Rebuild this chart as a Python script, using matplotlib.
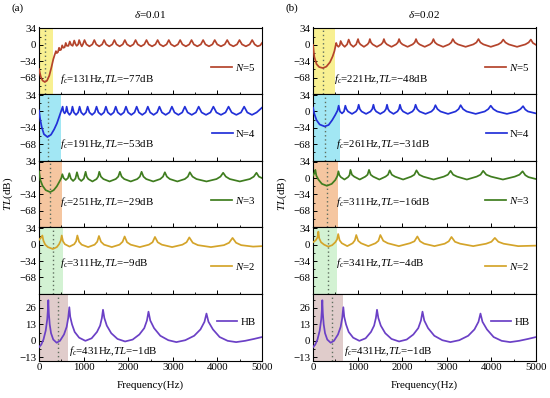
import matplotlib
matplotlib.use('Agg')
import matplotlib.pyplot as plt
from matplotlib.ticker import MultipleLocator

plt.rcParams['font.family'] = ['Liberation Serif', 'DejaVu Serif']
plt.rcParams['mathtext.fontset'] = 'custom'
plt.rcParams['mathtext.rm'] = 'Liberation Serif'
plt.rcParams['mathtext.it'] = 'Liberation Serif:italic'
plt.rcParams['font.size'] = 7.5

# ---------------- data ----------------
panel_titles = [r'$\delta$=0.01', r'$\delta$=0.02']
panel_tags = ['(a)', '(b)']
series_labels = [r'$N$=5', 'N=4', r'$N$=3', r'$N$=2', 'HB']
series_colors = ['#b4442c', '#2230d8', '#3f7d1f', '#d4a42a', '#6b40c6']
shade_colors = ['#f8f092', '#a2e7f4', '#f5c6a0', '#d3f2d3', '#e0cccb']

fc_left = [131, 191, 251, 311, 431]
tlmin_left = [-77, -53, -29, -9, -1]
shade_end_left = [320, 500, 525, 530, 660]
fc_right = [221, 261, 311, 341, 431]
tlmin_right = [-48, -31, -16, -4, -1]
shade_end_right = [500, 600, 565, 540, 680]

L5_f = [0, 40, 80, 131, 180, 230, 280, 320, 350, 380, 400, 425, 450, 470, 495, 520, 545, 575, 600,
        625, 660, 690, 720, 755, 790, 822, 845, 878, 900, 936, 960, 984, 1020,
        1064, 1130, 1196, 1240, 1284, 1350, 1416, 1460, 1506, 1575, 1644, 1690,
        1737, 1808, 1878, 1925, 1973, 2045, 2117, 2165, 2214, 2288, 2361, 2410,
        2460, 2535, 2610, 2660, 2710, 2785, 2860, 2910, 2961, 3038, 3114, 3165,
        3216, 3293, 3369, 3420, 3472, 3550, 3628, 3680, 3732, 3810, 3888, 3940,
        3996, 4080, 4164, 4220, 4275, 4358, 4440, 4495, 4552, 4638, 4723, 4780,
        4836, 4900, 4960, 5000]
L5_tl = [-50, -66, -74, -77, -74, -64, -46, -30, -21, -13, -17, -15, -6, -11, -10, -1, -6, -5, 4,
         -2, -2, 7, 0, -2, 9, 1, -2, 1, 10, 1, -3, 1, 10,
         1, -3, 1, 10, 1, -3, 1, 10, 1, -3, 1, 10,
         1, -3, 1, 10, 1, -3, 1, 10, 1, -3, 1, 10,
         1, -3, 1, 10, 1, -3, 1, 10, 1, -3, 1, 10,
         1, -3, 1, 10, 1, -3, 1, 10, 1, -3, 1, 10,
         1, -3, 1, 10, 1, -3, 1, 10, 1, -3, 1, 10,
         1, -3, -1, 4]

L4_f = [0, 25, 60, 110, 191, 270, 340, 400, 445, 490, 530,
        548, 575, 602, 620, 646, 685, 724, 750, 782, 830, 878, 910,
        946, 1000, 1054, 1090, 1130, 1190, 1250, 1290, 1332, 1395, 1458, 1500,
        1544, 1610, 1676, 1720, 1766, 1835, 1904, 1950, 1998, 2070, 2142, 2190,
        2240, 2315, 2390, 2440, 2492, 2570, 2648, 2700, 2756, 2840, 2924, 2980,
        3038, 3125, 3212, 3270, 3332, 3425, 3518, 3580, 3646, 3745, 3844, 3910,
        3978, 4080, 4182, 4250, 4320, 4425, 4530, 4600, 4670, 4775, 4880, 5000]
L4_tl = [2, -15, -32, -47, -53, -48, -37, -25, -13, -1, 10,
         0, -4, 0, 10, -2, -7, -2, 10, -2, -7, -2, 10,
         -2, -7, -2, 10, -2, -7, -2, 10, -2, -7, -2, 10,
         -2, -7, -2, 10, -2, -7, -2, 10, -2, -7, -2, 10,
         -2, -7, -2, 10, -2, -7, -2, 10, -2, -7, -2, 10,
         -2, -7, -2, 10, -2, -7, -2, 10, -2, -7, -2, 10,
         -2, -7, -2, 10, -2, -7, -2, 10, -2, -7, -2, 8]

L3_f = [0, 30, 80, 150, 251, 330, 400, 460, 500, 523,
        554, 601, 649, 680, 714, 765, 817, 851, 890, 948, 1006, 1045,
        1070, 1106, 1198, 1290, 1326, 1351, 1388, 1444, 1582, 1721, 1777, 1814,
        1853, 1911, 2057, 2203, 2261, 2300, 2342, 2404, 2561, 2718, 2780, 2822,
        2867, 2934, 3102, 3270, 3337, 3382, 3442, 3531, 3755, 3980, 4069, 4129,
        4189, 4278, 4502, 4727, 4816, 4876, 4930, 5000]
L3_tl = [14, -4, -16, -25, -29, -25, -17, -7, 0, 8,
         0, -4, 0, 10, -1, -6, -1, 12, -1, -6, -1, 13,
         3, -2, -7, -2, 3, 13, 3, -2, -7, -2, 3, 13,
         3, -2, -7, -2, 3, 13, 3, -2, -7, -2, 3, 12,
         3, -2, -7, -2, 3, 12, 3, -2, -7, -2, 3, 11,
         3, -2, -7, -2, 3, 11, 3, 0]

L2_f = [0, 40, 75, 100, 140, 200, 311, 400, 450, 490, 510,
        538, 580, 685, 790, 832, 860, 899, 957, 1102, 1247, 1305, 1344,
        1390, 1459, 1632, 1805, 1874, 1920, 1974, 2056, 2260, 2464, 2546, 2600,
        2662, 2754, 2985, 3216, 3308, 3370, 3448, 3564, 3855, 4146, 4262, 4340,
        4418, 4534, 4800, 5000]
L2_tl = [10, 14, 19, 8, 0, -5, -9, -5, 1, 9, 19,
         7, 1, -4, 1, 7, 19, 6, 0, -5, 0, 6, 18,
         6, 0, -5, 0, 6, 17, 5, 0, -5, 0, 5, 16,
         5, 0, -5, 0, 5, 15, 4, -1, -5, -1, 4, 14,
         4, -1, -4, -3]

HB_f = [0, 50, 100, 150, 185, 200, 209, 220, 240, 270, 320, 396, 470, 560, 620, 655, 680,
        700, 740, 800, 900, 1040, 1180, 1300, 1370, 1410, 1435, 1465, 1520, 1620, 1760,
        1930, 2100, 2250, 2360, 2420, 2455, 2495, 2580, 2720, 2900, 3080, 3280, 3480,
        3620, 3710, 3755, 3800, 3900, 4050, 4230, 4420, 4620, 4820, 5000]
HB_tl = [-5, -3, 1, 8, 17, 25, 32, 22, 13, 6, 1, -1.5, 0, 5, 11, 18, 26.5,
         19, 13, 7, 2.5, 0, 2, 7, 12, 18, 24.5, 18, 12, 6, 1.5,
         -0.5, 1, 5, 10, 16, 23, 16, 10, 4, 0.5, -1, 0.5, 4,
         9, 15, 21.5, 15, 9, 3, 0, -1, 0, 1.5, 3]

R5_f = [0, 30, 80, 140, 221, 300, 380, 440, 480, 520,
        540, 570, 600, 620, 656, 710, 764, 800, 842, 905, 968, 1010,
        1031, 1063, 1142, 1222, 1254, 1275, 1300, 1338, 1432, 1527, 1565, 1590,
        1617, 1658, 1760, 1862, 1903, 1930, 1960, 2006, 2120, 2234, 2280, 2310,
        2341, 2388, 2505, 2622, 2669, 2700, 2735, 2787, 2917, 3048, 3100, 3135,
        3181, 3250, 3422, 3595, 3664, 3710, 3754, 3821, 3987, 4154, 4221, 4265,
        4315, 4389, 4575, 4761, 4835, 4885, 4930, 5000]
R5_tl = [0, -25, -40, -46, -48, -45, -36, -24, -13, 4,
         -1, -4, -1, 8, 1, -4, 1, 11, 1, -4, 1, 12,
         5, 1, -4, 1, 5, 12, 5, 1, -4, 1, 5, 12,
         5, 1, -4, 1, 5, 12, 5, 1, -4, 1, 5, 12,
         5, 1, -4, 1, 5, 12, 5, 1, -4, 1, 5, 12,
         5, 1, -4, 1, 5, 12, 5, 1, -4, 1, 5, 11,
         5, 1, -4, 1, 5, 11, 4, 0]

R4_f = [0, 30, 80, 150, 261, 350, 430, 500, 550, 575,
        605, 650, 695, 725, 749, 785, 875, 964, 1000, 1024,
        1050, 1090, 1190, 1289, 1329, 1355, 1379, 1416, 1508, 1599, 1636, 1660,
        1683, 1718, 1805, 1892, 1927, 1950, 1978, 2020, 2125, 2230, 2272, 2300,
        2336, 2389, 2523, 2656, 2709, 2745, 2790, 2858, 3028, 3197, 3265, 3310,
        3364, 3445, 3648, 3850, 3931, 3985, 4043, 4130, 4348, 4565, 4652, 4710,
        4760, 4820, 5000]
R4_tl = [8, -5, -18, -27, -31, -28, -18, -7, 2, 12,
         0, -4, 0, 12, 5, 0, -5, 0, 5, 14,
         5, 0, -5, 0, 5, 14, 5, 0, -5, 0, 5, 14,
         5, 0, -5, 0, 5, 14, 5, 0, -5, 0, 5, 14,
         5, 0, -5, 0, 5, 13, 5, 0, -5, 0, 5, 13,
         5, 0, -5, 0, 5, 12, 5, 0, -5, 0, 5, 11,
         4, 0, -4]

R3_f = [0, 30, 52, 75, 120, 200, 311, 420, 500, 545, 570,
        592, 624, 705, 786, 818, 840, 873, 923, 1048, 1173, 1223, 1256,
        1293, 1349, 1488, 1626, 1682, 1719, 1767, 1839, 2020, 2200, 2272, 2320,
        2381, 2473, 2703, 2932, 3024, 3085, 3143, 3231, 3450, 3669, 3757, 3815,
        3886, 3992, 4258, 4523, 4629, 4700, 4760, 4830, 5000]
R3_tl = [5, 10, 17, 5, -3, -12, -16, -12, -4, 4, 14,
         6, 2, -3, 2, 6, 17, 7, 3, -3, 3, 7, 17,
         7, 3, -3, 3, 7, 16, 7, 3, -3, 3, 7, 16,
         7, 3, -3, 3, 7, 15, 7, 3, -3, 3, 7, 15,
         7, 3, -3, 3, 7, 14, 6, 2, -2]

R2_f = [0, 60, 100, 120, 140, 180, 250, 341, 430, 500, 540, 565,
        597, 646, 768, 889, 938, 970, 1013, 1078, 1240, 1402, 1467, 1510,
        1576, 1676, 1925, 2174, 2274, 2340, 2401, 2493, 2723, 2952, 3044, 3105,
        3183, 3300, 3592, 3883, 4000, 4078, 4156, 4273, 4600, 5000]
R2_tl = [5, 9, 15, 27, 13, 5, 0, -4, -1, 5, 11, 22,
         9, 3, -3, 3, 9, 20, 8, 3, -3, 3, 8, 20,
         8, 3, -3, 3, 7, 17, 7, 2, -3, 2, 7, 16,
         6, 2, -3, 2, 6, 14, 6, 2, -3, -2]

left_series = [(L5_f, L5_tl), (L4_f, L4_tl), (L3_f, L3_tl), (L2_f, L2_tl), (HB_f, HB_tl)]
right_series = [(R5_f, R5_tl), (R4_f, R4_tl), (R3_f, R3_tl), (R2_f, R2_tl), (HB_f, HB_tl)]

upper_yticks = [34, 0, -34, -68]
hb_yticks = [26, 13, 0, -13]
x_ticks = [0, 1000, 2000, 3000, 4000, 5000]

# ---------------- layout ----------------
W, H = 550, 398
fig = plt.figure(figsize=(5.5, 3.98), dpi=100)
col_left_px = [39, 313]
col_w_px = 223
top_px, bot_px = 27.5, 360.5
row_h_px = (bot_px - top_px) / 5
text_y = [-71, -67, -50, -38, -8]
legend_y = [0.40, 0.40, 0.40, 0.41, 0.58]

panels = [
    (left_series, fc_left, tlmin_left, shade_end_left, [470, 470, 470, 470, 680]),
    (right_series, fc_right, tlmin_right, shade_end_right, [480, 510, 510, 510, 690]),
]

for c, (series, fcs, tlm, shade_end, text_x) in enumerate(panels):
    for r in range(5):
        x0 = col_left_px[c] / W
        y0 = 1 - (top_px + (r + 1) * row_h_px) / H
        ax = fig.add_axes([x0, y0, col_w_px / W, row_h_px / H])
        f, tl = series[r]
        ax.axvspan(0, shade_end[r], color=shade_colors[r], lw=0, zorder=0)
        ax.axvline(fcs[r], color='#5f6f5f', ls=(0, (1, 2)), lw=1.0, zorder=1)
        ax.plot(f, tl, color=series_colors[r], lw=1.25, label=series_labels[r], zorder=3)
        ax.set_xlim(0, 5000)
        if r < 4:
            ax.set_ylim(-102, 36)
            ax.set_yticks(upper_yticks)
            ax.yaxis.set_minor_locator(MultipleLocator(17))
        else:
            ax.set_ylim(-15.5, 37)
            ax.set_yticks(hb_yticks)
            ax.yaxis.set_minor_locator(MultipleLocator(6.5))
        ax.set_xticks(x_ticks)
        ax.xaxis.set_minor_locator(MultipleLocator(500))
        ax.tick_params(which='both', direction='in', top=False, right=False,
                       labelsize=7.8, pad=2)
        ax.tick_params(which='major', length=3, width=0.7)
        ax.tick_params(which='minor', length=1.6, width=0.6)
        if r < 4:
            ax.tick_params(axis='x', labelbottom=False)
        for s in ax.spines.values():
            s.set_linewidth(0.8)
        ax.text(text_x[r], text_y[r],
                r'$f_c$=%dHz,$TL$=' % fcs[r] + '\u2212%ddB' % abs(tlm[r]),
                fontsize=7.8, va='center', ha='left', zorder=4)
        ax.legend(loc='center right', bbox_to_anchor=(1.0, legend_y[r]), frameon=False,
                  fontsize=7.8, handlelength=1.9, handletextpad=0.3, borderaxespad=0.2)

    cx = (col_left_px[c] + col_w_px / 2) / W
    fig.text(cx, 1 - 15 / H, panel_titles[c], ha='center', va='center', fontsize=8)
    fig.text((col_left_px[c] - 28) / W, 1 - 8 / H, panel_tags[c], ha='left', va='center', fontsize=8)
    fig.text((col_left_px[c] - 31) / W, 1 - 194 / H, r'$TL$(dB)', rotation=90,
             ha='center', va='center', fontsize=8)
    fig.text(cx, 1 - 385 / H, 'Frequency(Hz)', ha='center', va='center', fontsize=8)

fig.savefig('out.png', dpi=100)
